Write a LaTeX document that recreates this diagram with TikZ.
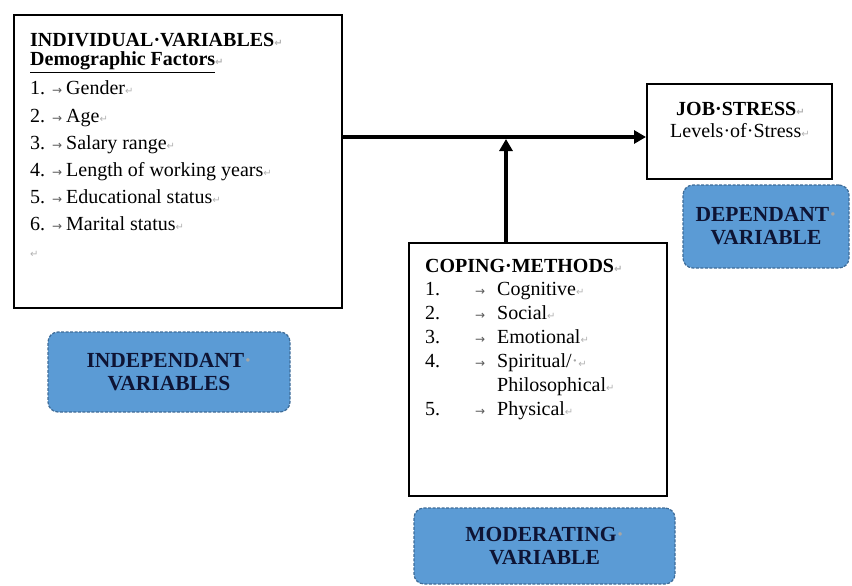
\documentclass[tikz,border=0pt]{standalone}
\usepackage{fontspec}
\setmainfont{Liberation Serif}
\newfontfamily\markfont{DejaVu Sans}
\usepackage{xcolor}
\usepackage{tikz}
\usetikzlibrary{arrows.meta, positioning}

\definecolor{labelfill}{RGB}{91,155,213}
\definecolor{labeledge}{RGB}{62,108,152}
\definecolor{labeltext}{RGB}{14,20,52}
% word formatting marks
\newcommand{\retmk}{{\markfont\fontsize{10}{10}\selectfont\textcolor{gray!60}{↵}}}
\newcommand{\tabmk}{{\markfont\fontsize{12}{12}\selectfont\textcolor{gray!70!black}{→}}}
\newcommand{\spmk}{\textcolor{gray!70}{·}}

\begin{document}
\begin{tikzpicture}[
  x=1pt, y=-1pt,
  >={Triangle[length=12pt, width=13pt]},
  frame/.style={draw, line width=1.6pt, anchor=north west, inner sep=0pt},
  varlabel/.style={rounded corners=10pt, fill=labelfill, draw=labeledge, line width=1.2pt,
    dash pattern=on 3pt off 1.5pt, text=labeltext, align=center, inner sep=0pt,
    font=\fontsize{21.5}{23}\selectfont\bfseries},
  line/.style={anchor=base west, inner sep=0pt, font=\fontsize{20}{24}\selectfont},
  flow/.style={->, line width=3.6pt},
]
  \useasboundingbox (0,0) rectangle (852,586);

  % boxes
  \node[frame, minimum width=328pt, minimum height=293pt] (indbox) at (13,14) {};
  \node[frame, minimum width=185pt, minimum height=95pt] (jsbox) at (646,83) {};
  \node[frame, minimum width=258pt, minimum height=253pt] (copebox) at (408,242) {};

  % individual variables
  \node[line, font=\fontsize{20}{24}\selectfont\bfseries] (indhead) at (30,47) {INDIVIDUAL·VARIABLES\retmk};
  \node[line, font=\fontsize{20}{24}\selectfont\bfseries] (demohead) at (30,66) {\underline{Demographic Factors}\retmk};
  \foreach \n/\item [count=\k from 0] in {1/Gender, 2/Age, 3/Salary range, 4/Length of working years,
      5/Educational status, 6/Marital status} {
    \node[line] (ind\n) at (30,95+27*\k) {\makebox[22pt][l]{\n.}\makebox[14pt][l]{\tabmk}\item\retmk};
  }
  \node[line] (indend) at (30,257) {\retmk};

  % job stress
  \node[line, font=\fontsize{20}{24}\selectfont\bfseries] (jshead) at (676,115) {JOB·STRESS\retmk};
  \node[line] (jslevel) at (670,137) {Levels·of·Stress\retmk};

  % coping methods
  \node[line, font=\fontsize{20}{24}\selectfont\bfseries] (copehead) at (425,272) {COPING·METHODS\retmk};
  \foreach \n/\y/\item in {1/295/Cognitive, 2/319/Social, 3/343/Emotional, 4/367/{Spiritual/\spmk}, 5/415/Physical} {
    \node[line] (cope\n) at (425,\y) {\makebox[50pt][l]{\n.}\makebox[22pt][l]{\tabmk}\item\retmk};
  }
  \node[line] (cope4b) at (497,391) {Philosophical\retmk};

  % variable labels
  \node[varlabel, minimum width=242pt, minimum height=80pt] (indlabel) at (169,372) {INDEPENDANT\spmk\\VARIABLES};
  \node[varlabel, minimum width=166pt, minimum height=83pt] (deplabel) at (766,226.5) {DEPENDANT\spmk\\VARIABLE};
  \node[varlabel, minimum width=261pt, minimum height=76pt] (modlabel) at (544.5,546) {MODERATING\spmk\\VARIABLE};

  % arrows
  \coordinate (join) at (506,137);
  \draw[flow] (indbox.east |- join) -- (join -| jsbox.west);
  \draw[flow] (copebox.north -| join) -- ([yshift=-2pt]join);
\end{tikzpicture}
\end{document}
